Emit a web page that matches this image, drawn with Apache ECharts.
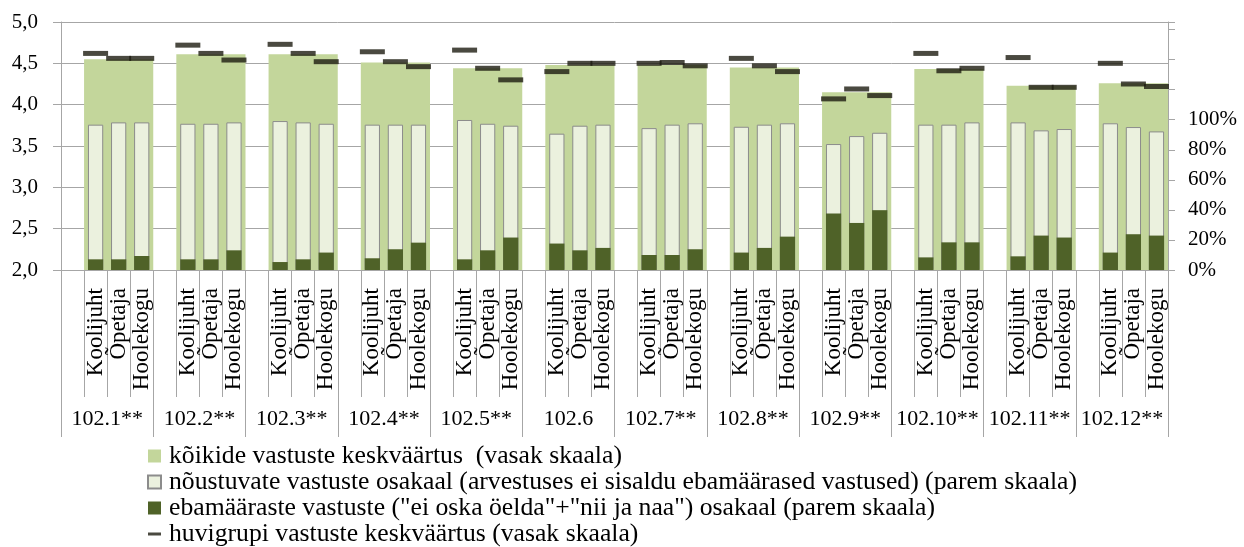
<!DOCTYPE html>
<html>
<head>
<meta charset="utf-8">
<script src="https://cdn.jsdelivr.net/npm/echarts@6/dist/echarts.min.js"></script>
<style>
html,body{margin:0;padding:0;background:#fff;}
#chart{width:1244px;height:547px;}
</style>
</head>
<body>
<div id="chart"></div>
<script>
const groups = ['102.1**','102.2**','102.3**','102.4**','102.5**','102.6','102.7**','102.8**','102.9**','102.10**','102.11**','102.12**'];
const subgroups = ['Koolijuht','Õpetaja','Hoolekogu'];
// kõikide vastuste keskväärtus (left scale), one per group
const groupMean = [4.55,4.61,4.61,4.51,4.44,4.48,4.48,4.45,4.15,4.43,4.23,4.26];
// huvigrupi vastuste keskväärtus (left scale): Koolijuht, Õpetaja, Hoolekogu
const subgroupMean = [
  [4.62,4.56,4.56],[4.72,4.62,4.54],[4.73,4.62,4.52],[4.64,4.52,4.46],
  [4.66,4.44,4.30],[4.40,4.50,4.50],[4.50,4.51,4.47],[4.56,4.47,4.40],
  [4.07,4.19,4.11],[4.62,4.41,4.44],[4.57,4.21,4.21],[4.50,4.25,4.22]
];
// nõustuvate vastuste osakaal (%)
const agreeShare = [
  [96.7,98.2,98.2],[97.3,97.3,98.2],[99.1,98.2,97.3],[96.7,96.7,96.7],
  [99.8,97.3,96.0],[90.7,96.0,96.7],[94.4,96.7,97.6],[95.3,96.7,97.6],
  [83.8,89.1,91.3],[96.7,96.7,98.2],[98.2,92.9,93.8],[97.6,95.1,92.2]
];
// ebamääraste vastuste osakaal (%)
const vagueShare = [
  [7.1,7.1,9.3],[7.1,7.1,13.1],[5.3,7.1,11.6],[7.8,13.8,18.2],
  [7.1,13.1,21.6],[17.6,13.1,14.7],[10.0,10.0,13.8],[11.6,14.7,22.2],
  [37.6,31.3,39.8],[8.4,18.4,18.4],[9.1,22.9,21.6],[11.6,23.8,22.9]
];
const leftTicks = [2,5,0.5];   // min, max, interval
const rightTicks = [0,165,20]; // min, max, interval

const names = [
  'kõikide vastuste keskväärtus  (vasak skaala)',
  'nõustuvate vastuste osakaal (arvestuses ei sisaldu ebamäärased vastused) (parem skaala)',
  'ebamääraste vastuste ("ei oska öelda"+"nii ja naa") osakaal (parem skaala)',
  'huvigrupi vastuste keskväärtus (vasak skaala)'
];

const subCats = [], agreeData = [], vagueData = [], dashData = [];
groups.forEach((g, i) => {
  subCats.push('');
  agreeData.push(null); vagueData.push(null); dashData.push(null);
  subgroups.forEach((s, j) => {
    subCats.push(s);
    agreeData.push(agreeShare[i][j]);
    vagueData.push(vagueShare[i][j]);
    dashData.push(subgroupMean[i][j]);
  });
});

const FONT = 'Liberation Serif';
const GRID = '#a6a6a6';
const chart = echarts.init(document.getElementById('chart'), null, {renderer: 'canvas'});
chart.setOption({
  animation: false,
  backgroundColor: '#fff',
  textStyle: {fontFamily: FONT, color: '#000'},
  grid: {left: 61, right: 76, top: 22, bottom: 277, containLabel: false},
  legend: {
    orient: 'vertical', left: 147, top: 443, padding: 0,
    itemWidth: 13, itemHeight: 13, itemGap: 0,
    textStyle: {fontFamily: FONT, fontSize: 25.7, lineHeight: 25.5, color: '#000', padding: [0,0,0,3]},
    data: [
      {name: names[0], icon: 'rect'},
      {name: names[1], icon: 'rect'},
      {name: names[2], icon: 'rect'},
      {name: names[3], icon: 'path://M0,0h13v3h-13z'}
    ],
    selectedMode: false
  },
  xAxis: [
    {
      type: 'category', data: subCats, position: 'bottom',
      axisLine: {show: true, lineStyle: {color: GRID}},
      axisTick: {show: true, interval: 0, length: 127, lineStyle: {color: GRID}},
      axisLabel: {interval: 0, rotate: 90, margin: 18, fontSize: 23, fontFamily: FONT, color: '#000'},
      splitLine: {show: false}
    },
    {
      type: 'category', data: groups, position: 'bottom',
      axisLine: {show: true, lineStyle: {color: GRID}},
      axisTick: {show: true, interval: 0, length: 167, lineStyle: {color: GRID}},
      axisLabel: {interval: 0, margin: 138, fontSize: 22, fontFamily: FONT, color: '#000'},
      splitLine: {show: false}
    }
  ],
  yAxis: [
    {
      type: 'value', position: 'left', min: leftTicks[0], max: leftTicks[1], interval: leftTicks[2],
      axisLine: {show: true, lineStyle: {color: GRID}},
      axisTick: {show: true, length: 8, lineStyle: {color: GRID}},
      axisLabel: {margin: 23, fontSize: 21, fontFamily: FONT, color: '#000',
        formatter: v => v.toFixed(1).replace('.', ',')},
      splitLine: {show: true, lineStyle: {color: GRID, width: 1}}
    },
    {
      type: 'value', position: 'right', min: rightTicks[0], max: rightTicks[1], interval: rightTicks[2],
      axisLine: {show: true, lineStyle: {color: GRID}},
      axisTick: {show: true, length: 7, lineStyle: {color: GRID}},
      axisLabel: {margin: 20, fontSize: 21, fontFamily: FONT, color: '#000',
        formatter: v => (v <= 100 ? Math.round(v) + '%' : '')},
      splitLine: {show: false}
    }
  ],
  series: [
    {
      name: 'pad', type: 'bar', xAxisIndex: 1, yAxisIndex: 0,
      barWidth: '25%', data: groups.map(() => null), z: 1, silent: true
    },
    {
      name: names[0], type: 'bar', xAxisIndex: 1, yAxisIndex: 0,
      barWidth: '75%', barGap: '0%', data: groupMean, z: 1,
      itemStyle: {color: '#C3D69B'}
    },
    {
      name: names[1], type: 'bar', xAxisIndex: 0, yAxisIndex: 1,
      barWidth: '66%', data: agreeData, z: 2,
      itemStyle: {color: '#EBF1DE', borderColor: '#8c8c8c', borderWidth: 1}
    },
    {
      name: names[2], type: 'bar', xAxisIndex: 0, yAxisIndex: 1,
      barWidth: '66%', barGap: '-100%', data: vagueData, z: 3,
      itemStyle: {color: '#4F6228'}
    },
    {
      name: names[3], type: 'scatter', xAxisIndex: 0, yAxisIndex: 0,
      symbol: 'rect', symbolSize: [25, 5], data: dashData, z: 4,
      itemStyle: {color: '#1D1B10'}
    }
  ]
});
</script>
</body>
</html>
